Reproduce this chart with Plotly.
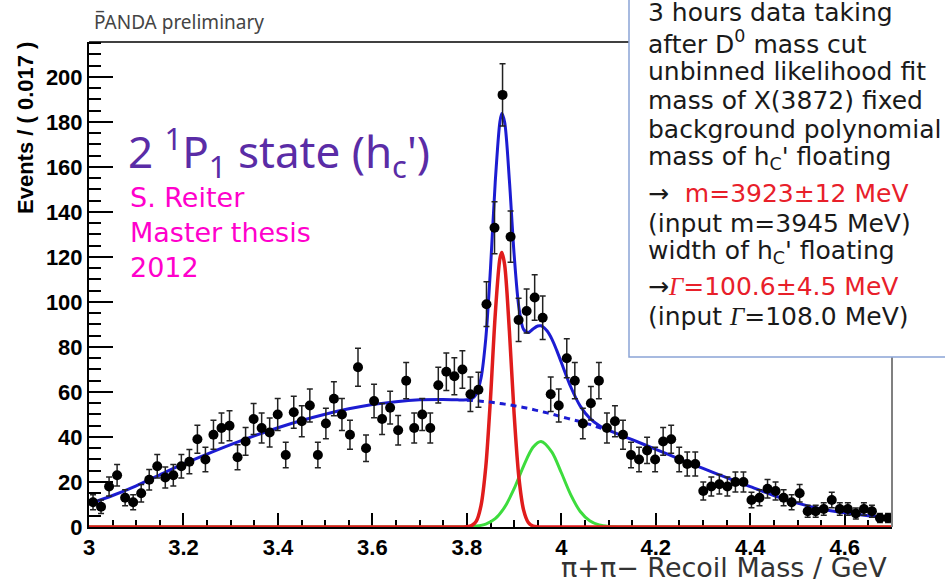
import numpy as np
import plotly.graph_objects as go

# ---- histogram: pi+pi- recoil mass, 100 bins of 0.017 GeV from 3.0 to 4.7 ----
bin_lo = 3.0
bin_width = 0.017
counts = [11, 9, 18, 23, 13, 11, 15, 21, 27, 22,
          23, 27, 29, 39, 30, 41, 44, 45, 31, 38,
          48, 44, 42, 50, 32, 51, 47, 54, 32, 46,
          57, 50, 41, 71, 35, 56, 48, 53, 43, 65,
          44, 50, 44, 63, 69, 67, 70, 59, 61, 99,
          133, 192, 129, 92, 96, 102, 93, 59, 54, 75,
          65, 46, 55, 65, 44, 47, 41, 32, 30, 34,
          30, 38, 39, 30, 28, 28, 16, 18, 19, 18,
          20, 20, 12, 13, 17, 16, 13, 11, 15, 7,
          7, 8, 12, 8, 8, 6, 8, 7, 4, 4]

# ---- fit curves (sampled) ----
total_x = [3.0, 3.05, 3.1, 3.15, 3.2, 3.25, 3.3, 3.35, 3.4, 3.45, 3.5, 3.55, 3.6, 3.65,
           3.7, 3.75, 3.78, 3.80, 3.81, 3.82, 3.83, 3.84, 3.85, 3.86, 3.87, 3.874,
           3.88, 3.89, 3.90, 3.91, 3.92, 3.93, 3.94, 3.95, 3.957, 3.96, 3.97, 3.98,
           3.99, 4.00, 4.02, 4.04, 4.06, 4.08, 4.10, 4.15, 4.2, 4.25, 4.3, 4.35,
           4.4, 4.45, 4.5, 4.55, 4.6, 4.65, 4.7]
total_y = [10.3, 14.0, 18.3, 23.2, 28.0, 32.4, 36.6, 40.5, 44.1, 47.3, 50.1, 52.5, 54.4, 55.7,
           56.5, 56.7, 56.5, 56.5, 56.9, 59.1, 66.2, 83.7, 114.9, 153.2, 180.2, 183.7,
           179.8, 154.0, 121.1, 97.7, 87.8, 86.4, 88.0, 89.3, 89.4, 89.1, 87.1, 83.5,
           78.6, 73.1, 62.2, 53.7, 48.4, 45.1, 43.0, 38.8, 34.5, 30.2, 26.0, 21.9,
           17.9, 14.0, 10.6, 8.0, 6.3, 5.0, 4.0]

bkg_x = [3.80, 3.81, 3.82, 3.83, 3.84, 3.85, 3.86, 3.87, 3.88, 3.89, 3.90, 3.91, 3.92,
         3.93, 3.94, 3.95, 3.96, 3.97, 3.98, 3.99, 4.00, 4.02, 4.04, 4.06, 4.08, 4.10]
bkg_y = [56.3, 56.2, 56.1, 55.9, 55.7, 55.5, 55.2, 54.9, 54.6, 54.3, 53.9, 53.5, 53.1,
         52.7, 52.2, 51.7, 51.2, 50.7, 50.2, 49.6, 49.0, 47.9, 46.8, 45.6, 44.2, 42.8]

x3872_x = [3.0, 3.79, 3.80, 3.81, 3.82, 3.83, 3.84, 3.85, 3.86, 3.87, 3.874, 3.88, 3.89,
           3.90, 3.91, 3.92, 3.93, 3.94, 3.95, 3.96, 4.7]
x3872_y = [0, 0, 0.1, 0.6, 2.6, 9.6, 26.7, 57.2, 94.3, 119.4, 122.0, 116.4, 87.1,
           50.2, 22.2, 7.6, 2.0, 0.4, 0.05, 0, 0]

hc_x = [3.0, 3.78, 3.80, 3.82, 3.84, 3.86, 3.88, 3.90, 3.92, 3.94, 3.957, 3.98, 4.00,
        4.02, 4.04, 4.06, 4.08, 4.10, 4.12, 4.7]
hc_y = [0, 0, 0.1, 0.4, 1.3, 3.7, 8.8, 17.0, 27.1, 35.4, 38.0, 33.3, 24.1,
        14.3, 6.9, 2.8, 0.9, 0.24, 0.05, 0]

x_ticks = [3.0, 3.2, 3.4, 3.6, 3.8, 4.0, 4.2, 4.4, 4.6]
y_ticks = [0, 20, 40, 60, 80, 100, 120, 140, 160, 180, 200]

counts_arr = np.array(counts, dtype=float)
centers = bin_lo + bin_width * (np.arange(len(counts)) + 0.5)
errors = np.sqrt(counts_arr)

BLUE = "#1c1cd2"
RED = "#e01c1c"
GREEN = "#3ddc3d"

fig = go.Figure()

fig.add_trace(go.Scatter(x=hc_x, y=hc_y, mode="lines",
                         line=dict(color=GREEN, width=3, shape="spline", smoothing=0.8),
                         hoverinfo="skip", showlegend=False))
fig.add_trace(go.Scatter(x=x3872_x, y=x3872_y, mode="lines",
                         line=dict(color=RED, width=3.5, shape="spline", smoothing=0.8),
                         hoverinfo="skip", showlegend=False))
fig.add_trace(go.Scatter(x=bkg_x, y=bkg_y, mode="lines",
                         line=dict(color=BLUE, width=3, dash="6px,5px", shape="spline"),
                         hoverinfo="skip", showlegend=False))
fig.add_trace(go.Scatter(x=total_x, y=total_y, mode="lines",
                         line=dict(color=BLUE, width=3, shape="spline", smoothing=0.8),
                         hoverinfo="skip", showlegend=False))
fig.add_trace(go.Scatter(x=centers, y=counts_arr, mode="markers",
                         marker=dict(color="black", size=10),
                         error_y=dict(type="data", array=errors, color="#222222",
                                      thickness=1.5, width=3),
                         showlegend=False))

ax_font = dict(family="Liberation Sans", size=22, color="black", weight="bold")

fig.update_xaxes(range=[3.0, 4.7], tickvals=x_ticks, ticktext=[f"{v:g}" for v in x_ticks],
                 ticks="inside", ticklen=14, tickwidth=1.5, tickcolor="black",
                 minor=dict(ticks="inside", ticklen=7, dtick=0.05, tick0=3.0,
                            tickwidth=1.5, tickcolor="black", showgrid=False),
                 showline=True, linecolor="black", linewidth=2, layer="below traces",
                 showgrid=False, zeroline=False, tickfont=ax_font)
fig.update_yaxes(range=[0, 215.5], tickvals=y_ticks,
                 ticks="inside", ticklen=24, tickwidth=1.5, tickcolor="black",
                 minor=dict(ticks="inside", ticklen=12, dtick=5, tick0=0,
                            tickwidth=1.5, tickcolor="black", showgrid=False),
                 showline=True, linecolor="black", linewidth=2, layer="below traces",
                 showgrid=False, zeroline=False, tickfont=ax_font)

def px_x(p):
    return (p - 89) / 803.0

def px_y(p):
    return (527 - p) / 485.0

shapes = [
    dict(type="line", xref="paper", yref="paper", x0=0, x1=1, y0=1, y1=1,
         line=dict(color="black", width=1.5), layer="above"),
    dict(type="line", xref="paper", yref="paper", x0=1, x1=1, y0=0, y1=1,
         line=dict(color="#808080", width=2), layer="above"),
    dict(type="rect", xref="paper", yref="paper",
         x0=px_x(629), x1=px_x(960), y0=px_y(357), y1=px_y(-10),
         fillcolor="white", line=dict(color="#8aa4d6", width=1.5), layer="above"),
]

annotations = []

annotations.append(dict(text="P\u0305ANDA preliminary", xref="paper", yref="paper",
                        x=px_x(92), y=px_y(22), xanchor="left", yanchor="middle",
                        showarrow=False,
                        font=dict(family="Noto Sans", size=19, color="#444444")))

annotations.append(dict(text="Events / ( 0.017 )", xref="paper", yref="paper",
                        x=px_x(25), y=px_y(128), xanchor="center", yanchor="middle",
                        textangle=-90, showarrow=False,
                        font=dict(family="Liberation Sans", size=22, color="black",
                                  weight="bold")))

annotations.append(dict(text="2 <sup>1</sup>P<sub>1</sub> state (h<sub>c</sub>')",
                        xref="paper", yref="paper", x=px_x(126), y=px_y(152),
                        xanchor="left", yanchor="middle", showarrow=False,
                        font=dict(family="Noto Sans", size=44, color="#5a2ca6")))

annotations.append(dict(text="S. Reiter<br>Master thesis<br>2012",
                        xref="paper", yref="paper", x=px_x(128), y=px_y(232),
                        xanchor="left", yanchor="middle", align="left", showarrow=False,
                        font=dict(family="DejaVu Sans", size=27, color="#ff00cc")))

annotations.append(dict(text="\u03c0+\u03c0\u2212 Recoil Mass / GeV",
                        xref="paper", yref="paper", x=px_x(889), y=px_y(585),
                        xanchor="right", yanchor="bottom", showarrow=False,
                        font=dict(family="DejaVu Sans", size=27, color="#333333")))

RED_TXT = "#e8202a"
GAMMA = "<span style=\"font-family:'Liberation Serif'\"><i>\u0393</i></span>"
box_lines = [
    "3 hours data taking",
    "after D<sup>0</sup> mass cut",
    "unbinned likelihood fit",
    "mass of X(3872) fixed",
    "background polynomial",
    "mass of h<sub>C</sub>' floating",
    f"\u2192  <span style='color:{RED_TXT}'>m=3923\u00b112 MeV</span>",
    "(input m=3945 MeV)",
    "width of h<sub>C</sub>' floating",
    f"\u2192<span style='color:{RED_TXT}'>{GAMMA}=100.6\u00b14.5 MeV</span>",
    f"(input {GAMMA}=108.0 MeV)",
]
box_y = [13, 42, 71, 100, 129, 158, 193, 223, 252, 286, 316]
for txt, yy in zip(box_lines, box_y):
    annotations.append(dict(text=txt, xref="paper", yref="paper",
                            x=px_x(646), y=px_y(yy), xanchor="left", yanchor="middle",
                            showarrow=False,
                            font=dict(family="DejaVu Sans", size=25, color="#1a1a1a")))

fig.update_layout(width=945, height=585, autosize=False,
                  margin=dict(l=89, r=53, t=42, b=58),
                  paper_bgcolor="white", plot_bgcolor="white",
                  shapes=shapes, annotations=annotations, showlegend=False)

fig.write_html("out.html")
